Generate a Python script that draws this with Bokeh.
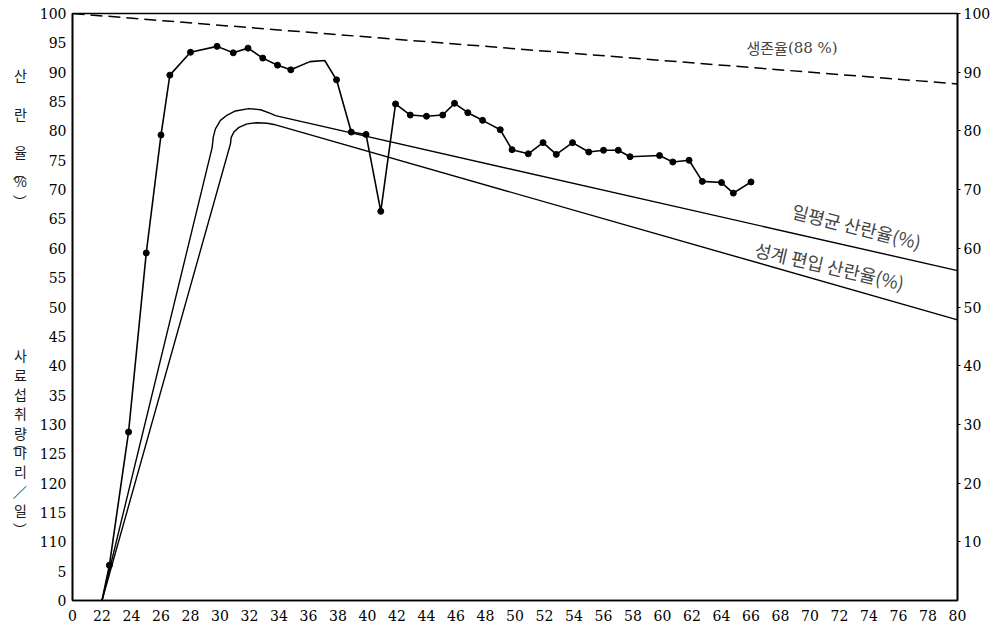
from bokeh.plotting import figure
from bokeh.models import LinearAxis, FixedTicker, Label, Range1d
from bokeh.embed import file_html
from bokeh.resources import INLINE

# Observed hen-day laying rate (%) by age (weeks)
obs_weeks = [22.0, 22.5, 23.8, 25.0, 26.0, 26.6, 28.0, 29.8, 30.9, 31.9,
             32.9, 33.9, 34.8, 36.1, 37.1, 37.9, 38.9, 39.9, 40.9, 41.9,
             42.9, 44.0, 45.1, 45.9, 46.8, 47.8, 49.0, 49.8, 50.9, 51.9,
             52.8, 53.9, 55.0, 56.0, 57.0, 57.8, 59.8, 60.7, 61.8, 62.7,
             64.0, 64.8, 66.0]
obs_rate = [0.0, 6.0, 28.7, 59.2, 79.3, 89.5, 93.4, 94.4, 93.3, 94.1,
            92.4, 91.2, 90.4, 91.8, 92.0, 88.7, 79.8, 79.4, 66.3, 84.6,
            82.7, 82.5, 82.7, 84.7, 83.1, 81.8, 80.2, 76.8, 76.1, 78.0,
            76.0, 78.0, 76.4, 76.7, 76.7, 75.6, 75.8, 74.7, 75.0, 71.4,
            71.2, 69.4, 71.3]
# weeks that carry a dot marker
obs_marked = [False, True, True, True, True, True, True, True, True, True,
              True, True, True, False, False, True, True, True, True, True,
              True, True, True, True, True, True, True, True, True, True,
              True, True, True, True, True, True, True, True, True, True,
              True, True, True]

# Standard hen-day laying rate (일평균 산란율)
std_hd_weeks = [22.0, 29.47, 29.54, 29.69, 30.03, 30.49, 31.05, 31.95,
                32.75, 33.42, 33.76, 80.0]
std_hd_rate = [0.0, 77.2, 78.9, 80.35, 81.8, 82.7, 83.4, 83.8,
               83.6, 83.0, 82.6, 56.2]

# Standard hen-housed laying rate (성계 편입 산란율)
std_hh_weeks = [22.0, 30.71, 30.76, 30.94, 31.28, 31.84, 32.52, 33.2,
                33.65, 80.0]
std_hh_rate = [0.0, 77.8, 78.9, 79.8, 80.6, 81.2, 81.4, 81.3,
               81.1, 47.8]

# Survival rate (생존율)
surv_weeks = [20.0, 80.0]
surv_rate = [100.0, 88.0]

# Axis ticks
x_ticks = list(range(20, 81, 2))
left_ticks = list(range(0, 101, 5))
left_tick_text = {10: "110", 15: "115", 20: "120", 25: "125", 30: "130"}
right_ticks = list(range(10, 101, 10))

# Left-side titles written top to bottom: (character, row on a half-line grid)
title_chars = [("산", 0), ("란", 4), ("율", 8), ("︵", 10), ("%", 11), ("︶", 13),
               ("사", 29), ("료", 31), ("섭", 33), ("취", 35), ("량", 37), ("︵", 38),
               ("마", 39), ("리", 41), ("／", 43), ("일", 45), ("︶", 47)]
TITLE_ROWS = 49

SERIF = "DejaVu Serif"
KR = "Noto Sans CJK KR"

p = figure(width=997, height=633, x_range=Range1d(20, 80), y_range=Range1d(0, 100),
           output_backend="svg", toolbar_location=None,
           min_border_left=72, min_border_right=40, min_border_top=13,
           min_border_bottom=33, background_fill_color="white",
           border_fill_color="white")
p.xgrid.visible = False
p.ygrid.visible = False
p.outline_line_color = "black"
p.outline_line_width = 1.6
p.outline_line_alpha = 1.0

# bottom axis
xa = p.xaxis[0]
xa.ticker = FixedTicker(ticks=x_ticks)
xa.major_label_overrides = {20: "0"}

# left axis, with its stacked vertical titles
ya = p.yaxis[0]
ya.ticker = FixedTicker(ticks=left_ticks)
ya.major_label_overrides = left_tick_text
rows = [" "] * TITLE_ROWS
for ch, row in title_chars:
    rows[row] = ch
ya.axis_label = "\n".join(rows)
ya.axis_label_orientation = "horizontal"
ya.axis_label_text_font = KR
ya.axis_label_text_font_size = "14px"
ya.axis_label_text_font_style = "normal"
ya.axis_label_text_color = "#1a1a1a"
ya.axis_label_text_line_height = 0.483
ya.axis_label_standoff = 10

# right axis
ra = LinearAxis(ticker=FixedTicker(ticks=right_ticks))
p.add_layout(ra, "right")

for ax in (xa, ya, ra):
    ax.axis_line_color = "black"
    ax.axis_line_width = 1.6
    ax.major_tick_in = 0
    ax.major_tick_out = 0
    ax.minor_tick_in = 0
    ax.minor_tick_out = 0
    ax.major_label_text_font = SERIF
    ax.major_label_text_font_size = "14px"
    ax.major_label_text_color = "black"
ra.major_tick_out = 3
ra.major_label_standoff = 3
ya.major_label_standoff = 6
xa.major_label_standoff = 9

# survival line
p.line(surv_weeks, surv_rate, line_color="black", line_width=1.5, line_dash="12 6")

# standard curves
p.line(std_hd_weeks, std_hd_rate, line_color="black", line_width=1.4)
p.line(std_hh_weeks, std_hh_rate, line_color="black", line_width=1.4)

# observed laying rate
p.line(obs_weeks, obs_rate, line_color="black", line_width=1.6)
mx = [w for w, m in zip(obs_weeks, obs_marked) if m]
my = [r for r, m in zip(obs_rate, obs_marked) if m]
p.scatter(mx, my, size=6, marker="circle", fill_color="black", line_color="black")

# in-plot labels
p.add_layout(Label(x=68.5, y=94.2, text="생존율", text_font=KR,
                   text_font_size="15px", text_align="right", text_baseline="middle"))
p.add_layout(Label(x=68.5, y=94.2, text="(88 %)", text_font=SERIF,
                   text_font_size="15px", text_align="left", text_baseline="middle"))
p.add_layout(Label(x=73.3, y=63.7, text="일평균  산란율(%)", text_font=KR,
                   text_font_size="18px", text_align="center", text_baseline="middle",
                   angle=-14.0, angle_units="deg"))
p.add_layout(Label(x=71.6, y=56.9, text="성계  편입  산란율(%)", text_font=KR,
                   text_font_size="18px", text_align="center", text_baseline="middle",
                   angle=-13.0, angle_units="deg"))

open("out.html", "w").write(file_html(p, INLINE))
